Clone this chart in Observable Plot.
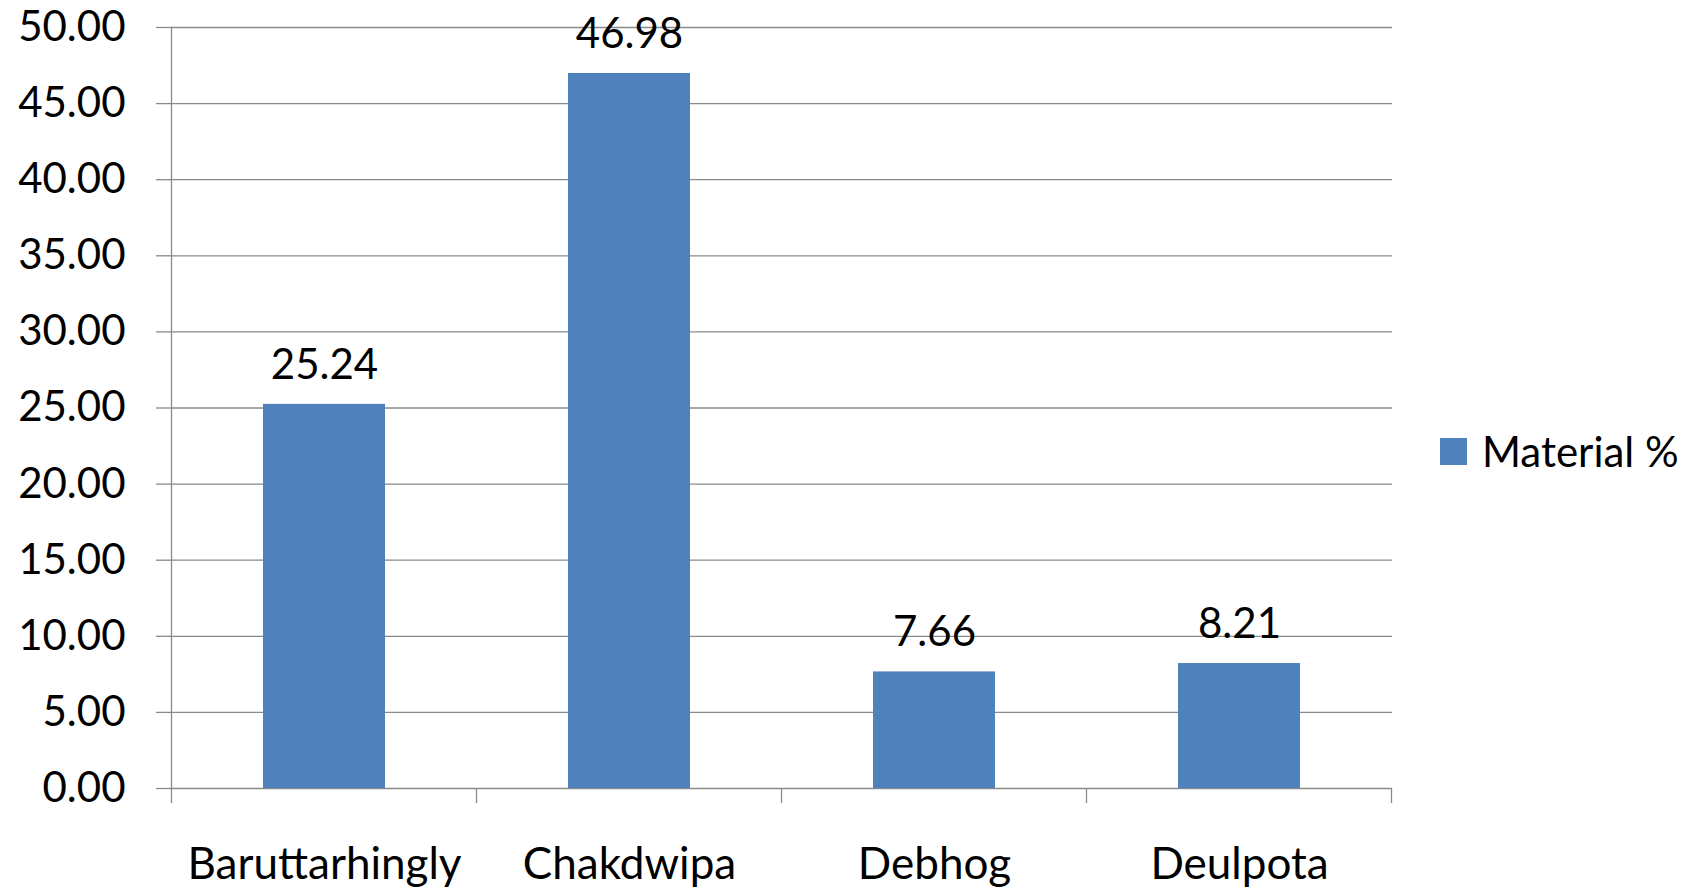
<!DOCTYPE html>
<html>
<head>
<meta charset="utf-8">
<script src="https://cdn.jsdelivr.net/npm/d3@7"></script>
<script src="https://cdn.jsdelivr.net/npm/@observablehq/plot@0.6"></script>
<style>
  html, body { margin: 0; padding: 0; background: #fff; }
  #wrap { position: relative; width: 1703px; height: 893px; font-family: Lato, sans-serif; }
  #legend { position: absolute; left: 1440px; top: 426px; width: 263px; white-space: nowrap; }
  #legend * { white-space: nowrap; }
  .lg-swatch > svg { margin-right: 15px !important; }
</style>
</head>
<body>
<div id="wrap"><div id="legend"></div></div>
<script>
const categories = ["Baruttarhingly", "Chakdwipa", "Debhog", "Deulpota"];
const values = [25.24, 46.98, 7.66, 8.21];
const seriesName = "Material %";
const yTicks = [0, 5, 10, 15, 20, 25, 30, 35, 40, 45, 50];

const data = categories.map((c, i) => ({name: c, value: values[i]}));
const gray = "#8a8a8a";
const barColor = "#4F81BD";

function boundaryTicks(index, scales) {
  const x = scales.x, y = scales.y;
  const bw = typeof x.bandwidth === "function" ? x.bandwidth() : (x.bandwidth || 0);
  const centers = categories.map(c => x(c) + bw / 2);
  const step = centers[1] - centers[0];
  const xs = centers.map(c => c - step / 2).concat([centers[centers.length - 1] + step / 2]);
  const y0 = y(0);
  const g = d3.create("svg:g");
  g.selectAll("line").data(xs).join("line")
    .attr("x1", d => d).attr("x2", d => d)
    .attr("y1", y0).attr("y2", y0 + 15)
    .attr("stroke", gray).attr("stroke-width", 1.3);
  return g.node();
}

const chart = Plot.plot({
  width: 1703,
  height: 893,
  marginLeft: 171,
  marginRight: 311,
  marginTop: 27,
  marginBottom: 105,
  style: {fontFamily: "Lato, sans-serif", fontSize: "42px", color: "#000", background: "#fff"},
  x: {domain: categories, paddingInner: 0.6, paddingOuter: 0.3, label: null},
  y: {domain: [0, 50], label: null},
  marks: [
    Plot.ruleY(yTicks, {stroke: gray, strokeWidth: 1.3}),
    Plot.frame({anchor: "left", stroke: gray, strokeWidth: 1.3}),
    boundaryTicks,
    Plot.barY(data, {x: "name", y: "value", fill: barColor}),
    Plot.text(data, {x: "name", y: "value", text: d => d.value.toFixed(2), dy: -39, fontSize: 42, fill: "#000"}),
    Plot.axisY({ticks: yTicks, tickFormat: d => d.toFixed(2), tickSize: 15, tickPadding: 31, stroke: gray, strokeWidth: 1.3, fill: "#000", fontSize: 42, label: null}),
    Plot.axisX({tickSize: 0, tickPadding: 59, fill: "#000", fontSize: 44, label: null})
  ]
});
document.getElementById("wrap").prepend(chart);

const legend = Plot.legend({
  color: {type: "ordinal", domain: [seriesName], range: [barColor]},
  swatchSize: 27,
  className: "lg",
  style: {fontFamily: "Lato, sans-serif", fontSize: "42px", color: "#000", whiteSpace: "nowrap"}
});
document.getElementById("legend").appendChild(legend);
</script>
</body>
</html>
